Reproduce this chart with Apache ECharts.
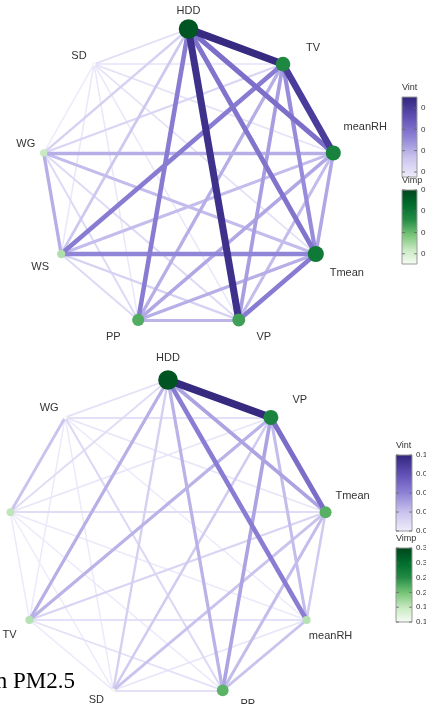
<!DOCTYPE html>
<html><head><meta charset="utf-8">
<script src="https://cdn.jsdelivr.net/npm/echarts@6/dist/echarts.min.js"></script>
<style>html,body{margin:0;padding:0;background:#fff;overflow:hidden}#c{width:426px;height:704px}</style>
</head><body><div id="c"></div>
<script>
// ---------- DATA ----------
const nodesTop = ['HDD','TV','meanRH','Tmean','VP','PP','WS','WG','SD'];
const vimpTop  = [0.185,0.135,0.14,0.15,0.118,0.11,0.07,0.06,0.03];
const linksTop = [
  ['HDD','TV',0.088],['HDD','VP',0.085],['TV','meanRH',0.080],['HDD','meanRH',0.060],
  ['HDD','Tmean',0.058],['HDD','PP',0.055],['TV','WS',0.055],['Tmean','VP',0.055],
  ['WS','Tmean',0.052],['TV','Tmean',0.050],['TV','VP',0.045],['TV','PP',0.040],
  ['meanRH','PP',0.042],['meanRH','Tmean',0.042],['meanRH','WG',0.040],['WG','WS',0.040],
  ['WG','Tmean',0.036],['PP','VP',0.038],['PP','Tmean',0.040],['meanRH','VP',0.036],
  ['WS','meanRH',0.036],['HDD','WS',0.032],['HDD','WG',0.028],['TV','WG',0.026],
  ['WS','VP',0.028],['WS','PP',0.024],['WG','PP',0.024],['WG','VP',0.024],
  ['HDD','SD',0.022],['TV','SD',0.020],['meanRH','SD',0.020],['Tmean','SD',0.020],
  ['VP','SD',0.018],['PP','SD',0.018],['WS','SD',0.018],['WG','SD',0.017]
];
const vintTicksTop = [0.08,0.06,0.04,0.02];
const vimpTicksTop = [0.20,0.15,0.10,0.05];

const nodesBot = ['HDD','VP','Tmean','meanRH','PP','SD','TV','WS','WG'];
const vimpBot  = [0.33,0.2625,0.2175,0.16,0.215,0.102,0.16,0.155,0.10];
const linksBot = [
  ['HDD','VP',0.098],['VP','Tmean',0.068],['HDD','meanRH',0.062],['HDD','Tmean',0.050],
  ['VP','PP',0.050],['HDD','PP',0.045],['HDD','TV',0.046],['VP','TV',0.045],
  ['VP','meanRH',0.042],['Tmean','PP',0.042],['Tmean','SD',0.040],['meanRH','PP',0.040],
  ['WG','WS',0.040],['Tmean','meanRH',0.036],['HDD','SD',0.034],['VP','SD',0.036],
  ['HDD','WS',0.028],['HDD','WG',0.026],['WG','VP',0.026],['WS','Tmean',0.028],
  ['TV','meanRH',0.026],['SD','PP',0.026],['TV','Tmean',0.032],['PP','TV',0.026],
  ['WG','PP',0.030],['WG','Tmean',0.024],['WG','meanRH',0.022],['WG','SD',0.022],
  ['WG','TV',0.022],['WS','VP',0.024],['WS','meanRH',0.022],['WS','PP',0.022],
  ['WS','SD',0.021],['WS','TV',0.022],['SD','TV',0.022],['SD','meanRH',0.024]
];
const vintTicksBot = [0.10,0.08,0.06,0.04,0.02];
const vimpTicksBot = [0.35,0.30,0.25,0.20,0.15,0.10];

const captionText = 'n PM2.5';

// ---------- STYLE / LAYOUT ----------
const purpleStops = [[0,'#efedfb'],[0.25,'#c9c3ee'],[0.5,'#8e82d6'],[0.75,'#5f4fb5'],[1,'#30257a']];
const greenStops  = [[0,'#f7fcf5'],[0.2,'#c7e9c0'],[0.4,'#74c476'],[0.6,'#238b45'],[0.8,'#006d2c'],[1,'#00441b']];

const rangeVintTop = [0.0153, 0.0903];
const rangeVimpTop = [0.026, 0.20];
const rangeVintBot = [0.02, 0.10];
const rangeVimpBot = [0.10, 0.35];

const labelOffTop = [[0,-18],[30,-16],[32,-26],[31,19],[25,17],[-25,17],[-21,13],[-18,-9],[-15,-8]];
const labelOffBot = [[0,-22],[29,-17],[27,-16],[24,16],[25,14],[-17,10],[-20,15],[-20,-10],[-16,-9]];

function hex2rgb(h){return [parseInt(h.substr(1,2),16),parseInt(h.substr(3,2),16),parseInt(h.substr(5,2),16)];}
function lerpColor(stops,t){
  t=Math.max(0,Math.min(1,t));
  for(let i=1;i<stops.length;i++){
    if(t<=stops[i][0]){
      const a=stops[i-1],b=stops[i];
      const f=(t-a[0])/(b[0]-a[0]);
      const ca=hex2rgb(a[1]),cb=hex2rgb(b[1]);
      return 'rgb('+ca.map((v,k)=>Math.round(v+(cb[k]-v)*f)).join(',')+')';
    }
  }
  return stops[stops.length-1][1];
}

function buildSeries(nodes,vimp,links,rVimp,rVint,offs,gi){
  const n=nodes.length;
  const data=nodes.map((name,i)=>{
    const ang=Math.PI/2-i*2*Math.PI/n;
    const t=(vimp[i]-rVimp[0])/(rVimp[1]-rVimp[0]);
    return {name,value:[Math.cos(ang),Math.sin(ang)],symbolSize:4+17*t,
      itemStyle:{color:lerpColor(greenStops,t)},label:{offset:offs[i]}};
  });
  const ls=links.slice().sort((a,b)=>a[2]-b[2]).map(([s,tg,v])=>{
    const t=(v-rVint[0])/(rVint[1]-rVint[0]);
    return {source:s,target:tg,value:v,lineStyle:{width:1.3+6.2*t,color:lerpColor(purpleStops,t),opacity:1,curveness:0}};
  });
  return {type:'graph',coordinateSystem:'cartesian2d',xAxisIndex:gi,yAxisIndex:gi,layout:'none',
    data,links:ls,silent:true,symbol:'circle',
    label:{show:true,position:'inside',color:'#333',fontSize:11,fontFamily:'Liberation Sans'},
    emphasis:{disabled:true}};
}

function legend(x,y,w,h,title,ticks,range,stops){
  const els=[];
  els.push({type:'text',left:x,top:y-14,style:{text:title,fill:'#333',font:'9px "Liberation Sans"'}});
  const cs=stops.map(s=>({offset:1-s[0],color:s[1]})).reverse();
  els.push({type:'rect',shape:{x:x,y:y,width:w,height:h},style:{fill:{type:'linear',x:0,y:0,x2:0,y2:1,colorStops:cs},stroke:'#9a9a9a',lineWidth:1}});
  ticks.forEach(v=>{
    const yy=y+(range[1]-v)/(range[1]-range[0])*h;
    els.push({type:'line',shape:{x1:x,y1:yy,x2:x+3,y2:yy},style:{stroke:'#666',lineWidth:0.8}});
    els.push({type:'line',shape:{x1:x+w-3,y1:yy,x2:x+w,y2:yy},style:{stroke:'#666',lineWidth:0.8}});
    els.push({type:'text',x:x+w+4,y:yy,style:{text:v.toFixed(2),fill:'#333',font:'8px "Liberation Sans"',verticalAlign:'middle'}});
  });
  return els;
}

const chart=echarts.init(document.getElementById('c'),null,{renderer:'canvas'});
const axisHidden={type:'value',show:false,min:-1,max:1};
const option={
  animation:false,
  grid:[{left:41.5,top:29,width:294,height:300},{left:8,top:380,width:320,height:320}],
  xAxis:[Object.assign({gridIndex:0},axisHidden),Object.assign({gridIndex:1},axisHidden)],
  yAxis:[Object.assign({gridIndex:0},axisHidden),Object.assign({gridIndex:1},axisHidden)],
  series:[
    buildSeries(nodesTop,vimpTop,linksTop,rangeVimpTop,rangeVintTop,labelOffTop,0),
    buildSeries(nodesBot,vimpBot,linksBot,rangeVimpBot,rangeVintBot,labelOffBot,1)
  ],
  graphic:[].concat(
    legend(402,97,15,80,'Vint',vintTicksTop,[0.0153,0.0903],purpleStops),
    legend(402,190,15,74,'Vimp',vimpTicksTop,[0.026,0.20],greenStops),
    legend(396,455,16,76,'Vint',vintTicksBot,[0.02,0.10],purpleStops),
    legend(396,548,16,74,'Vimp',vimpTicksBot,[0.10,0.35],greenStops),
    [{type:'text',x:75,y:682,style:{text:captionText,fill:'#000',font:'23px "Liberation Serif"',align:'right',verticalAlign:'middle'}}]
  )
};
chart.setOption(option);
</script>
</body></html>
